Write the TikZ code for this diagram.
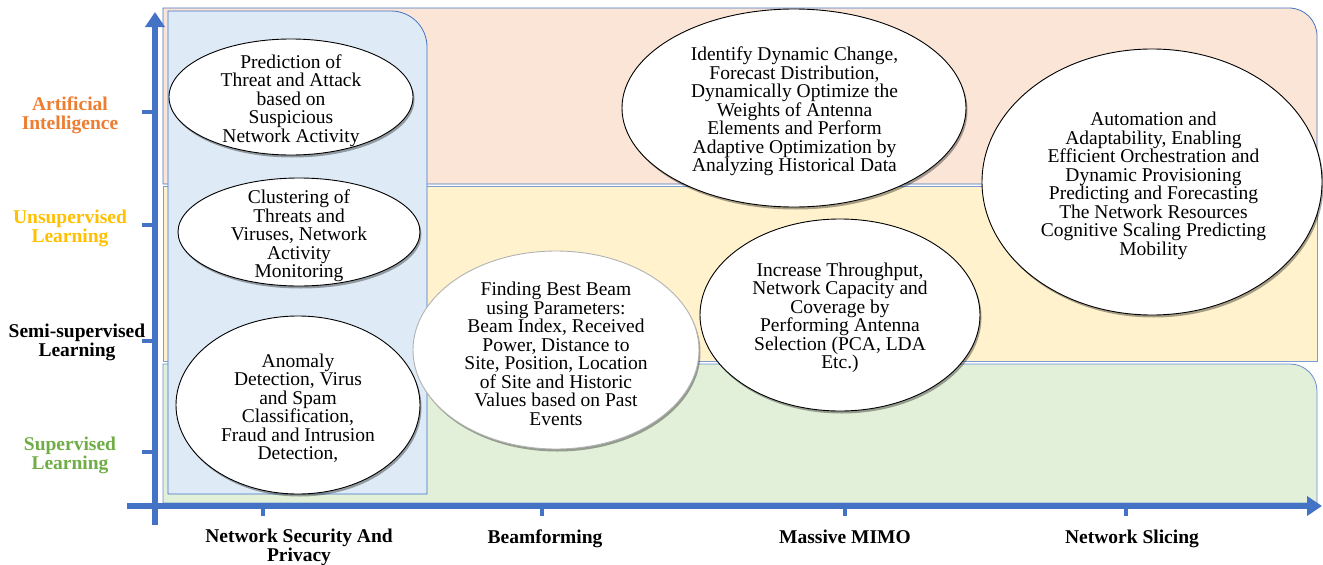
\documentclass[tikz,border=0pt]{standalone}
\usepackage{fontspec}
\setmainfont{Liberation Serif}
\usetikzlibrary{shapes.geometric,arrows.meta,shadows}
\lineskiplimit=-100pt
\definecolor{axisblue}{HTML}{4472C4}
\definecolor{aiorange}{HTML}{FBE5D6}
\definecolor{unyellow}{HTML}{FFF2CC}
\definecolor{supgreen}{HTML}{E2F0D9}
\definecolor{secblue}{HTML}{DEEBF7}
\definecolor{txtorange}{HTML}{ED7D31}
\definecolor{txtgold}{HTML}{FFC000}
\definecolor{txtgreen}{HTML}{70AD47}
\tikzset{
  panel/.style={draw=axisblue, line width=0.8pt},
  bubble/.style={ellipse, draw=black, line width=0.9pt, fill=white, inner sep=0pt,
    drop shadow={shadow xshift=1.5pt, shadow yshift=-2.5pt, fill=black, opacity=0.35}},
  btext/.style={align=center, font=\fontsize{19.5}{18.5}\selectfont, inner sep=0pt},
  lvl/.style={align=center, font=\bfseries\fontsize{19.5}{19}\selectfont, inner sep=0pt},
  axisline/.style={line width=6pt, draw=axisblue, -{Triangle[length=15pt,width=19pt]}},
  tickmark/.style={line width=4pt, draw=axisblue},
}
\begin{document}
\begin{tikzpicture}[x=1pt,y=-1pt]
\useasboundingbox (0,0) rectangle (1323,565);
% panels
\draw[panel, fill=aiorange] (163,184) -- (163,8) -- (1289,8) .. controls (1304.5,8) and (1317,20.5) .. (1317,36) -- (1317,184) -- cycle;
\draw[panel, fill=unyellow, draw=axisblue!70] (163,186) rectangle (1317,361);
\draw[panel, fill=supgreen, draw=axisblue!80] (163,503) -- (163,364) -- (1290,364) .. controls (1305,364) and (1317,376) .. (1317,391) -- (1317,503) -- cycle;
\draw[panel, fill=secblue] (168,494) -- (168,11) -- (391,11) .. controls (411,11) and (427,27) .. (427,47) -- (427,494) -- cycle;
% axes
\coordinate (vb) at (155,525);
\coordinate (vt) at (155,12);
\coordinate (hl) at (127,506);
\coordinate (hr) at (1322,506);
\draw[axisline] (vb) -- (vt);
\draw[axisline] (hl) -- (hr);
\foreach \yy in {112,225,341,452} \draw[tickmark] (142,\yy) -- (155,\yy);
\foreach \xx in {263,542,845,1126} \draw[tickmark] (\xx,506) -- (\xx,516);
% level labels
\node[lvl, text=txtorange] (lai) at (70,115) {Artificial\\Intelligence};
\node[lvl, text=txtgold] (lun) at (70,228.5) {Unsupervised\\Learning};
\node[lvl] (lsemi) at (77,342) {Semi-supervised\\Learning};
\node[lvl, text=txtgreen] (lsup) at (70,455.5) {Supervised\\Learning};
% domain labels
\node[lvl] (dsec) at (299,547) {Network Security And\\Privacy};
\node[lvl, anchor=base] (dbeam) at (545,543) {Beamforming};
\node[lvl, anchor=base] (dmimo) at (845,543) {Massive MIMO};
\node[lvl, anchor=base] (dslice) at (1132,543) {Network Slicing};
% bubbles
\node[bubble, minimum width=244, minimum height=116] (e1) at (291,97) {};
\node[btext] (t1) at (291,100.5) {Prediction of\\Threat and Attack\\based on\\Suspicious\\Network Activity};
\node[bubble, minimum width=242, minimum height=108] (e2) at (299,232) {};
\node[btext] (t2) at (299,236) {Clustering of\\Threats and\\Viruses, Network\\Activity\\Monitoring};
\node[bubble, minimum width=244, minimum height=178] (e3) at (298,405) {};
\node[btext] (t3) at (298,408) {Anomaly\\Detection, Virus\\and Spam\\Classification,\\Fraud and Intrusion\\Detection,};
\node[bubble, draw=gray!60, minimum width=286, minimum height=198] (e4) at (556,350) {};
\node[btext] (t4) at (556,354) {Finding Best Beam\\using Parameters:\\Beam Index, Received\\Power, Distance to\\Site, Position, Location\\of Site and Historic\\Values based on Past\\Events};
\node[bubble, minimum width=344, minimum height=198] (e5) at (794,108) {};
\node[btext] (t5) at (794.5,111.5) {Identify Dynamic Change,\\Forecast Distribution,\\Dynamically Optimize the\\Weights of Antenna\\Elements and Perform\\Adaptive Optimization by\\Analyzing Historical Data};
\node[bubble, minimum width=280, minimum height=192] (e6) at (840,315) {};
\node[btext] (t6) at (840,318) {Increase Throughput,\\Network Capacity and\\Coverage by\\Performing Antenna\\Selection (PCA, LDA\\Etc.)};
\node[bubble, minimum width=340, minimum height=266] (e7) at (1152,182) {};
\node[btext] (t7) at (1153.5,186) {Automation and\\Adaptability, Enabling\\Efficient Orchestration and\\Dynamic Provisioning\\Predicting and Forecasting\\The Network Resources\\Cognitive Scaling Predicting\\Mobility};
\end{tikzpicture}
\end{document}
